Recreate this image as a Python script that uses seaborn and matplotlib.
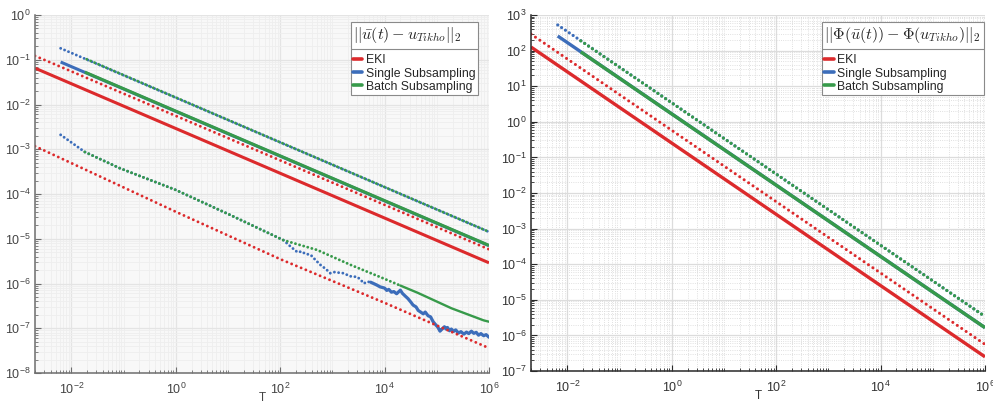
import matplotlib
matplotlib.use("Agg")
import matplotlib.pyplot as plt
import pandas as pd
import seaborn as sns
from matplotlib.lines import Line2D
from matplotlib.ticker import LogLocator, NullFormatter, FixedLocator

# ---------------- data: parameter error (left panel) ----------------
L_EKI_T = [0.002, 1e6]
L_EKI = [0.065, 2.9e-6]
L_EKI_DOT_T = [0.002, 1e6]
L_EKI_DOT = [0.122, 5.8e-6]
L_EKI_LOW_T = [0.002, 0.1, 1, 100, 1e4, 1e6]
L_EKI_LOW = [1.17e-3, 1.4e-4, 4.0e-5, 3.5e-6, 3.7e-7, 3.6e-8]

L_SS_T = [0.0062, 1e6]
L_SS = [0.089, 7.0e-6]
L_SS_DOT_T = [0.0062, 1e6]
L_SS_DOT = [0.18, 1.42e-5]
L_SS_LOW_T = [0.0062, 0.018, 0.083, 1, 11, 115, 160, 214, 260, 300, 380, 480,
              590, 750, 910, 1100, 1300, 1620, 2200, 3000, 3500, 4000, 4600,
              5400, 7000, 8200, 1.0e4, 1.1e4, 1.2e4, 1.35e4, 1.5e4, 1.7e4,
              2.0e4, 2.2e4, 2.5e4, 2.8e4, 3.2e4, 3.5e4, 4.0e4, 4.4e4, 4.9e4,
              5.5e4, 6.0e4, 6.8e4, 7.6e4, 8.5e4, 9.5e4, 1.05e5, 1.15e5,
              1.25e5, 1.4e5, 1.5e5, 1.6e5, 1.75e5, 1.9e5, 2.1e5, 2.3e5,
              2.6e5, 2.9e5, 3.3e5, 3.7e5, 4.1e5, 4.6e5, 5.1e5, 5.7e5, 6.3e5,
              7.0e5, 7.9e5, 8.8e5, 1e6]
L_SS_LOW = [2.1e-3, 8.7e-4, 3.8e-4, 1.23e-4, 3.4e-5, 9.3e-6, 6.6e-6, 5.0e-6,
            5.2e-6, 4.6e-6, 4.4e-6, 3.3e-6, 2.6e-6, 2.1e-6, 1.7e-6, 1.8e-6,
            1.75e-6, 1.7e-6, 1.45e-6, 1.4e-6, 1.2e-6, 1.0e-6, 1.1e-6,
            1.07e-6, 9.3e-7, 8.4e-7, 7.9e-7, 7.0e-7, 7.4e-7, 6.4e-7, 6.6e-7,
            5.9e-7, 7.1e-7, 6.0e-7, 5.2e-7, 4.6e-7, 3.8e-7, 3.3e-7, 3.0e-7,
            2.5e-7, 2.3e-7, 2.1e-7, 2.3e-7, 1.9e-7, 1.8e-7, 1.4e-7, 1.2e-7,
            1.05e-7, 8.6e-8, 9.5e-8, 1.08e-7, 9.6e-8, 1.04e-7, 8.8e-8,
            9.6e-8, 8.5e-8, 9.2e-8, 7.8e-8, 8.4e-8, 7.4e-8, 8.2e-8, 7.6e-8,
            8.6e-8, 7.7e-8, 8.1e-8, 7.0e-8, 7.6e-8, 6.8e-8, 7.2e-8, 6.3e-8]

L_BS_T = [0.018, 1e6]
L_BS = [0.053, 7.1e-6]
L_BS_DOT_T = [0.018, 1e6]
L_BS_DOT = [0.107, 1.43e-5]
L_BS_LOW_T = [0.018, 0.083, 1, 11, 115, 513, 2240, 9500, 2.0e4, 4.3e4,
              1.9e5, 7.9e5, 1e6]
L_BS_LOW = [8.7e-4, 3.8e-4, 1.23e-4, 3.4e-5, 9.3e-6, 5.6e-6, 2.6e-6, 1.3e-6,
            9.0e-7, 6.2e-7, 2.8e-7, 1.5e-7, 1.4e-7]

# ---------------- data: data-space error (right panel) ----------------
R_EKI_T = [0.002, 1e6]
R_EKI = [126.0, 2.5e-7]
R_EKI_DOT_T = [0.002, 1e6]
R_EKI_DOT = [290.0, 5.6e-7]
R_SS_T = [0.0065, 1e6]
R_SS = [257.0, 1.65e-6]
R_SS_DOT_T = [0.0065, 1e6]
R_SS_DOT = [525.0, 3.4e-6]
R_BS_T = [0.018, 1e6]
R_BS = [92.0, 1.65e-6]
R_BS_DOT_T = [0.018, 1e6]
R_BS_DOT = [188.0, 3.4e-6]

LABELS = ["EKI", "Single Subsampling", "Batch Subsampling"]
COLORS = ["#DC2A2C", "#3C6DBA", "#379A4A"]
TITLES = [r"$||\bar{u}(t) - u_{Tikho}||_2$",
          r"$||\Phi(\bar{u}(t)) - \Phi(u_{Tikho})||_2$"]

sns.set_style("ticks")
plt.rcParams["font.family"] = ["Liberation Sans", "DejaVu Sans"]
plt.rcParams["mathtext.fontset"] = "cm"

fig = plt.figure(figsize=(9.93, 4.05), dpi=100)
axL = fig.add_axes([35 / 993, 1 - 373 / 405, 454 / 993, 358 / 405])
axR = fig.add_axes([531 / 993, 1 - 371 / 405, 454 / 993, 356 / 405])


def draw(ax, t, v, color, kind, lw=None, gap=1.6, offset=0.0,
         solid_from=None, tail_lw=None):
    df = pd.DataFrame({"T": t, "err": v})
    if kind == "solid":
        sns.lineplot(data=df, x="T", y="err", ax=ax, color=color,
                     lw=lw or 2.2, estimator=None, sort=False,
                     solid_capstyle="butt")
        return
    w = lw or 2.1
    head = df if solid_from is None else df[df["T"] <= solid_from]
    sns.lineplot(data=head, x="T", y="err", ax=ax, color=color, lw=w,
                 estimator=None, sort=False,
                 linestyle=(offset, (0.01, gap)), dash_capstyle="round")
    if solid_from is not None:
        tail = df[df["T"] >= solid_from]
        sns.lineplot(data=tail, x="T", y="err", ax=ax, color=color,
                     lw=tail_lw or w, estimator=None, sort=False,
                     solid_joinstyle="round")


red, blue, green = COLORS

# left panel
draw(axL, L_SS_T, L_SS, blue, "solid")
draw(axL, L_SS_DOT_T, L_SS_DOT, blue, "dot", gap=1.45)
draw(axL, L_SS_LOW_T, L_SS_LOW, blue, "dot", gap=1.45, solid_from=5400,
     tail_lw=2.3)
draw(axL, L_BS_T, L_BS, green, "solid")
draw(axL, L_BS_DOT_T, L_BS_DOT, green, "dot", gap=1.45, offset=0.73)
draw(axL, L_BS_LOW_T, L_BS_LOW, green, "dot", gap=1.45, solid_from=2.0e4,
     tail_lw=1.7)
draw(axL, L_EKI_T, L_EKI, red, "solid")
draw(axL, L_EKI_DOT_T, L_EKI_DOT, red, "dot", gap=1.75)
draw(axL, L_EKI_LOW_T, L_EKI_LOW, red, "dot", gap=1.75)

# right panel
draw(axR, R_SS_T, R_SS, blue, "solid", lw=2.4)
draw(axR, R_SS_DOT_T, R_SS_DOT, blue, "dot", lw=2.3, gap=1.45)
draw(axR, R_BS_T, R_BS, green, "solid", lw=2.4)
draw(axR, R_BS_DOT_T, R_BS_DOT, green, "dot", lw=2.3, gap=1.45)
draw(axR, R_EKI_T, R_EKI, red, "solid", lw=2.4)
draw(axR, R_EKI_DOT_T, R_EKI_DOT, red, "dot", lw=2.2, gap=1.75)

styles = [
    dict(ax=axL, ylim=(1e-8, 1.0), spine="#6E6E6E", label="#444444",
         face="#F8F8F8", gmaj="#E4E4E4", gmin="#EEEEEE", gminls="-",
         anchor=(0.976, 0.98)),
    dict(ax=axR, ylim=(1e-7, 1e3), spine="#2A2A2A", label="#333333",
         face="white", gmaj="#DCDCDC", gmin="#D6D6D6", gminls=":",
         anchor=(0.997, 0.98)),
]

legends = []
for st, title in zip(styles, TITLES):
    ax = st["ax"]
    ax.set_xscale("log")
    ax.set_yscale("log")
    ax.set_xlim(0.002, 1e6)
    ax.set_ylim(*st["ylim"])
    ax.set_facecolor(st["face"])
    ax.xaxis.set_major_locator(FixedLocator([1e-2, 1e0, 1e2, 1e4, 1e6]))
    ax.xaxis.set_minor_locator(LogLocator(base=10, subs=range(1, 10), numticks=100))
    ax.yaxis.set_major_locator(LogLocator(base=10, numticks=30))
    ax.yaxis.set_minor_locator(LogLocator(base=10, subs=range(2, 10), numticks=100))
    ax.xaxis.set_minor_formatter(NullFormatter())
    ax.yaxis.set_minor_formatter(NullFormatter())
    for s in ("top", "right"):
        ax.spines[s].set_visible(False)
    for s in ("left", "bottom"):
        ax.spines[s].set_color(st["spine"])
        ax.spines[s].set_linewidth(1.1)
    ax.tick_params(which="major", direction="in", length=4, width=0.8,
                   color=st["spine"], labelsize=9, labelcolor=st["label"])
    ax.tick_params(axis="x", which="major", pad=6)
    ax.tick_params(axis="y", which="major", pad=3)
    ax.tick_params(which="minor", direction="in", length=2, width=0.6,
                   color=st["spine"])
    ax.grid(True, which="major", color=st["gmaj"], lw=0.9, ls="-")
    ax.grid(True, which="minor", color=st["gmin"], lw=0.6, ls=st["gminls"])
    ax.set_axisbelow(True)
    ax.set_xlabel("T", fontsize=8.5, color=st["label"], labelpad=-3)
    ax.set_ylabel("")

    handles = [Line2D([], [], color=c, lw=2.6) for c in COLORS]
    leg = ax.legend(handles, LABELS, title=title, loc="upper right",
                    bbox_to_anchor=st["anchor"], borderaxespad=0,
                    fontsize=8.8, title_fontsize=11.5, handlelength=0.75,
                    handletextpad=0.3, labelspacing=0.1, borderpad=0.2,
                    fancybox=False, framealpha=1, edgecolor="#8A8A8A",
                    facecolor="white")
    leg._legend_box.align = "left"
    leg._legend_box.sep = 7
    leg.get_frame().set_linewidth(0.8)
    legends.append(leg)

# rule between each legend title and its entries
fig.canvas.draw()
inv = fig.transFigure.inverted()
for leg in legends:
    fb = leg.get_frame().get_window_extent()
    tb = leg.get_title().get_window_extent()
    first = leg.get_texts()[0].get_window_extent()
    y = 0.5 * (tb.y0 + first.y1) + 0.5
    (x0, yy), (x1, _) = inv.transform([(fb.x0, y), (fb.x1, y)])
    fig.add_artist(Line2D([x0, x1], [yy, yy], transform=fig.transFigure,
                          color="#8A8A8A", lw=0.8))

fig.savefig("out.png", dpi=100)
